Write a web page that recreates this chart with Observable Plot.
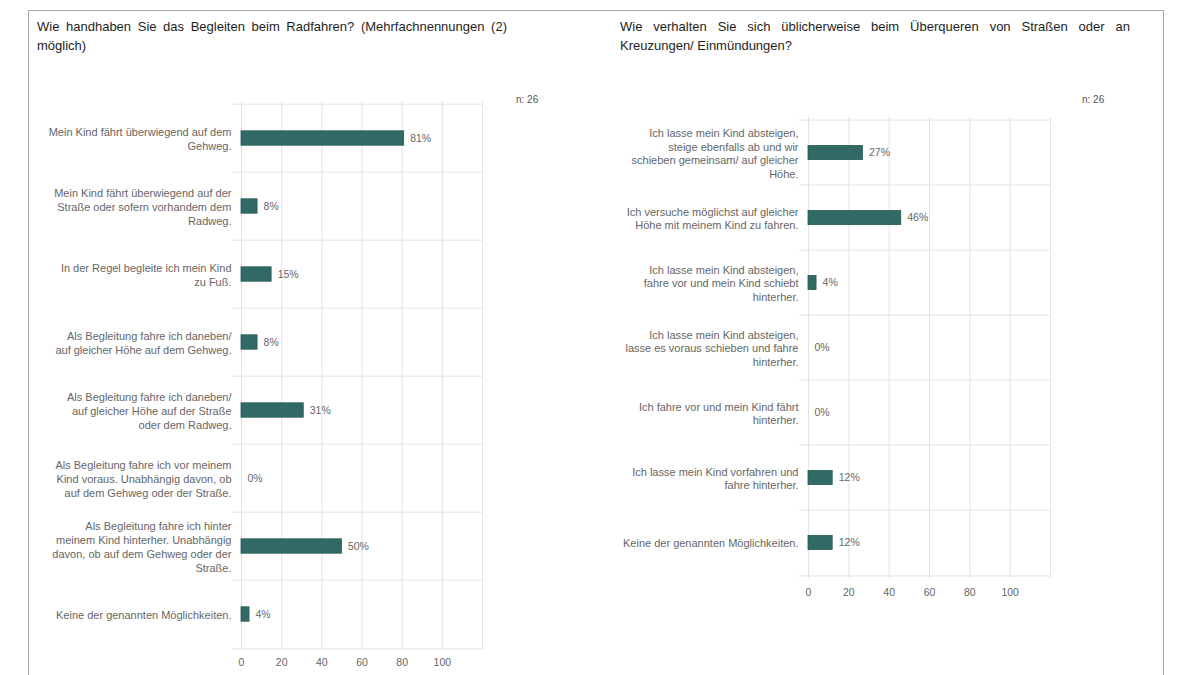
<!DOCTYPE html>
<html>
<head>
<meta charset="utf-8">
<script src="https://cdn.jsdelivr.net/npm/d3@7"></script>
<script src="https://cdn.jsdelivr.net/npm/@observablehq/plot@0.6"></script>
<style>
  html, body { margin: 0; padding: 0; background: #fff; }
  body { width: 1177px; height: 675px; position: relative; overflow: hidden; font-family: "Liberation Sans", Arial, sans-serif; }
  .frame { position: absolute; left: 28px; top: 10px; width: 1136px; height: 700px; border: 1px solid #a8a8a8; box-sizing: border-box; }
  .title { position: absolute; font-size: 13px; color: #1e1e1e; line-height: 19px; }
  .title .l1 { text-align: justify; text-align-last: justify; white-space: nowrap; }
  .n { position: absolute; font-size: 10px; color: #555; }
  .chart { position: absolute; }
</style>
</head>
<body>
<div class="frame"></div>
<div class="title" id="t1" style="left:37px; top:17px; width:470px;"></div>
<div class="title" id="t2" style="left:620px; top:17px; width:510px;"></div>
<div class="n" style="left:516px; top:94px;">n: 26</div>
<div class="n" style="left:1082px; top:94px;">n: 26</div>
<div class="chart" id="c1" style="left:30px; top:90px;"></div>
<div class="chart" id="c2" style="left:600px; top:100px;"></div>
<script>
const leftTitle = ["Wie handhaben Sie das Begleiten beim Radfahren? (Mehrfachnennungen (2)", "möglich)"];
const rightTitle = ["Wie verhalten Sie sich üblicherweise beim Überqueren von Straßen oder an", "Kreuzungen/ Einmündungen?"];

const leftCategories = [
  "Mein Kind fährt überwiegend auf dem\nGehweg.",
  "Mein Kind fährt überwiegend auf der\nStraße oder sofern vorhandem dem\nRadweg.",
  "In der Regel begleite ich mein Kind\nzu Fuß.",
  "Als Begleitung fahre ich daneben/\nauf gleicher Höhe auf dem Gehweg.",
  "Als Begleitung fahre ich daneben/\nauf gleicher Höhe auf der Straße\noder dem Radweg.",
  "Als Begleitung fahre ich vor meinem\nKind voraus. Unabhängig davon, ob\nauf dem Gehweg oder der Straße.",
  "Als Begleitung fahre ich hinter\nmeinem Kind hinterher. Unabhängig\ndavon, ob auf dem Gehweg oder der\nStraße.",
  "Keine der genannten Möglichkeiten."
];
const leftValues = [81, 8, 15, 8, 31, 0, 50, 4];

const rightCategories = [
  "Ich lasse mein Kind absteigen,\nsteige ebenfalls ab und wir\nschieben gemeinsam/ auf gleicher\nHöhe.",
  "Ich versuche möglichst auf gleicher\nHöhe mit meinem Kind zu fahren.",
  "Ich lasse mein Kind absteigen,\nfahre vor und mein Kind schiebt\nhinterher.",
  "Ich lasse mein Kind absteigen,\nlasse es voraus schieben und fahre\nhinterher.",
  "Ich fahre vor und mein Kind fährt\nhinterher.",
  "Ich lasse mein Kind vorfahren und\nfahre hinterher.",
  "Keine der genannten Möglichkeiten."
];
const rightValues = [27, 46, 4, 0, 0, 12, 12];

const xTickValues = [0, 20, 40, 60, 80, 100];
const xGridValues = [0, 20, 40, 60, 80, 100, 120];
const xDomain = [0, 120];

function setTitle(id, lines) {
  const el = document.getElementById(id);
  const a = document.createElement("div"); a.className = "l1"; a.textContent = lines[0];
  const b = document.createElement("div"); b.textContent = lines[1];
  el.appendChild(a); el.appendChild(b);
}
setTitle("t1", leftTitle);
setTitle("t2", rightTitle);

function makeChart(cats, values, o) {
  const data = cats.map((c, i) => ({label: c, value: values[i]}));
  const bw = (o.height - o.mt - o.mb) / cats.length;
  const barH = 15;
  const inset = (bw - barH) / 2;
  const grid = "#e3e3e3";
  return Plot.plot({
    width: o.width, height: o.height,
    marginTop: o.mt, marginBottom: o.mb, marginLeft: o.ml, marginRight: o.mr,
    style: {fontFamily: '"Liberation Sans", Arial, sans-serif', background: "transparent", overflow: "visible"},
    x: {domain: xDomain, axis: null},
    y: {domain: cats, padding: 0, axis: null},
    marks: [
      Plot.ruleX(xGridValues, {stroke: grid, strokeWidth: 1}),
      Plot.ruleY(cats, {y: d => d, dy: -bw / 2, x1: -4.5, x2: 120, stroke: grid}),
      Plot.ruleY([cats[cats.length - 1]], {y: d => d, dy: bw / 2, x1: -4.5, x2: 120, stroke: grid}),
      Plot.barX(data, {x: "value", y: "label", fill: "#316a64", stroke: "#285a55", strokeWidth: 0.8, insetTop: inset, insetBottom: inset}),
      Plot.text(data, {x: "value", y: "label", text: d => d.value + "%", dx: 6, textAnchor: "start", fill: "#666", fontSize: 10.5}),
      Plot.text(data, {x: () => 0, y: "label", text: "label", textAnchor: "end", dx: -10, lineHeight: 1.27, fontSize: 11, fill: "#666"}),
      Plot.axisX({ticks: xTickValues, tickSize: 0, tickPadding: o.tickPad, fontSize: 10.5, fill: "#666", label: null})
    ]
  });
}

document.getElementById("c1").appendChild(makeChart(leftCategories, leftValues,
  {width: 560, height: 585, mt: 11, mb: 25, ml: 211, mr: 108, tickPad: 8}));
document.getElementById("c2").appendChild(makeChart(rightCategories, rightValues,
  {width: 560, height: 510, mt: 17, mb: 32, ml: 208, mr: 110, tickPad: 10}));
</script>
</body>
</html>
